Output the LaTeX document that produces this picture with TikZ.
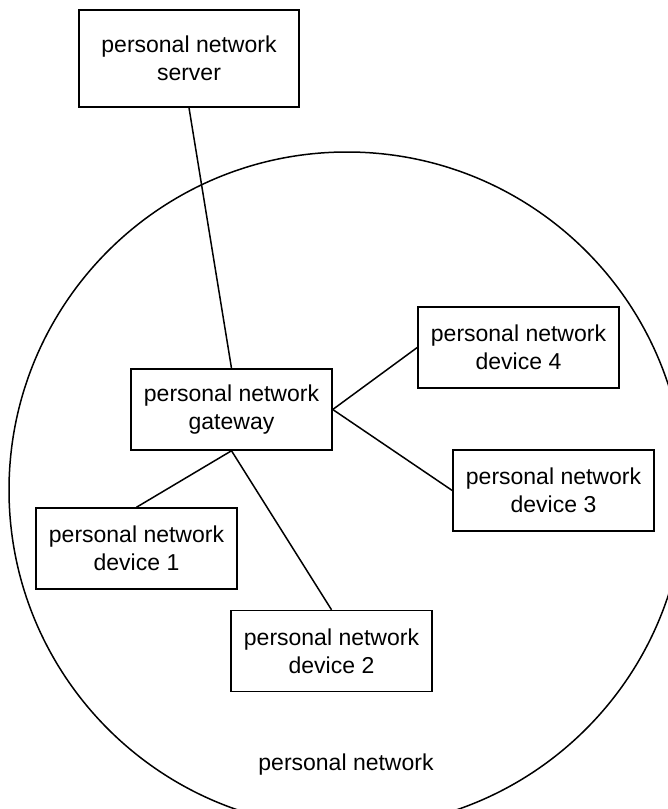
\documentclass[tikz,border=0pt]{standalone}
\usepackage{fontspec}
\setmainfont{Liberation Sans}
\begin{document}
\begin{tikzpicture}[x=1pt,y=-1pt,
  box/.style={draw,line width=1.5pt,inner sep=0pt,align=center,
    minimum width=201pt,minimum height=81pt,
    font=\fontsize{23}{28}\selectfont},
  link/.style={line width=1.5pt},
  txt/.style={inner sep=0pt,font=\fontsize{23}{28}\selectfont}]
\useasboundingbox (0,0) rectangle (668,809);
\fill[white] (0,0) rectangle (668,809);
\begin{scope}
  \clip (0,0) rectangle (668,809);
  \draw[line width=1.5pt] (347,490) circle[radius=338];
\end{scope}
\node[box,minimum width=220pt,minimum height=97pt] (srv) at (189,58.5) {personal network\\server};
\node[box] (gw) at (231.5,409.5) {personal network\\gateway};
\node[box] (d4) at (518.5,347.5) {personal network\\device 4};
\node[box] (d3) at (553.5,490.5) {personal network\\device 3};
\node[box] (d1) at (136.5,548.5) {personal network\\device 1};
\node[box] (d2) at (331.5,651) {personal network\\device 2};
\node[txt] (pn) at (346,765) {personal network};
\draw[link] (srv.south) -- (gw.north);
\draw[link] (gw.east) -- (d4.west);
\draw[link] (gw.east) -- (d3.west);
\draw[link] (gw.south) -- (d1.north);
\draw[link] (gw.south) -- (d2.north);
\end{tikzpicture}
\end{document}
